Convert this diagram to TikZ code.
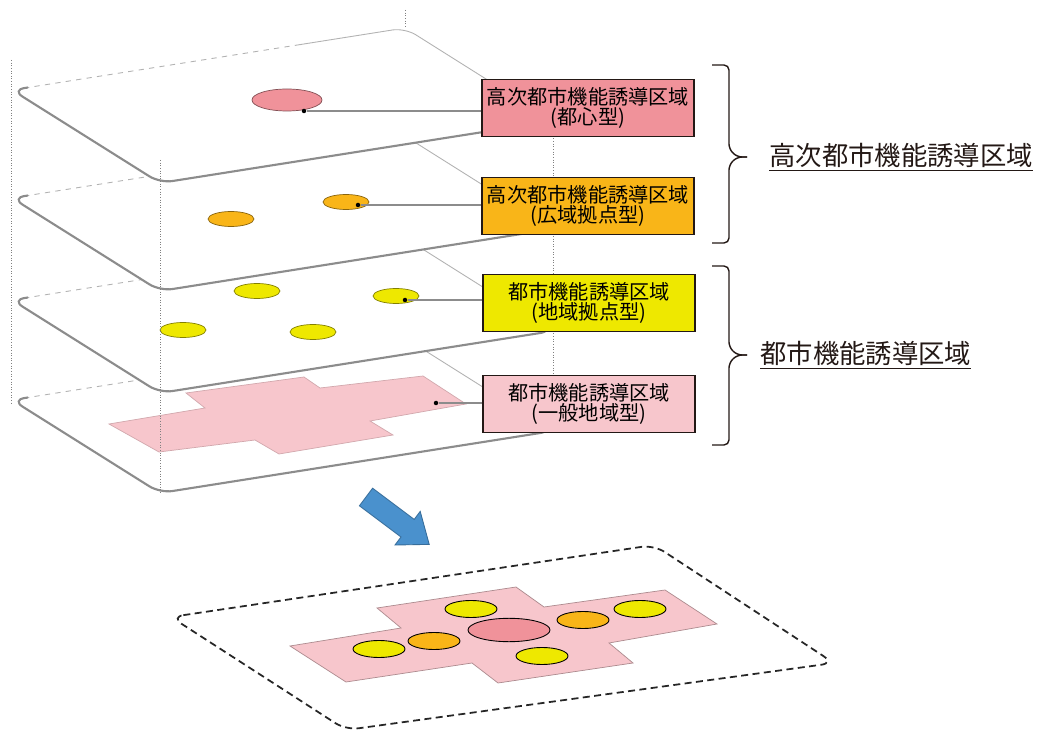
\documentclass[tikz,border=0pt]{standalone}
\usepackage{fontspec}
\setmainfont{Noto Sans CJK JP}
\usetikzlibrary{calc}
\definecolor{toshinpink}{RGB}{240,146,154}
\definecolor{koikiorange}{RGB}{249,181,24}
\definecolor{chiikiyellow}{RGB}{238,232,0}
\definecolor{ippanpink}{RGB}{247,198,204}
\definecolor{yajirushi}{RGB}{74,145,205}
\definecolor{sumi}{RGB}{35,24,21}
\begin{document}
\begin{tikzpicture}[x=0.02cm, y=-0.02cm,
        kubun/.style={rectangle, draw=sumi, line width=0.7pt, minimum width=4.24cm, minimum height=1.14cm, align=center, inner sep=1pt, font=\fontsize{11.5}{11.8}\selectfont},
        soumei/.style={font=\fontsize{15}{18}\selectfont, text=sumi, inner sep=0pt},
        kyoten/.style={draw=#1!55!black, fill=#1, line width=0.4pt},
        gattai/.style={draw=black, fill=#1, line width=0.5pt},
        pindot/.style={circle, fill=black, inner sep=0pt, minimum size=0.09cm},
        hikidashi/.style={draw=black!45, line width=0.6pt},
        hashira/.style={draw=black!50, densely dotted, line width=0.5pt},
        kakko/.style={draw=sumi, line width=0.8pt, rounded corners=0.1cm},
        sheet/.pic={
            \path[fill=white, rounded corners=0.25cm] (12,90) -- (160,183) -- (553,121) -- (405,28) -- cycle;
            \draw[draw=black!30, line width=0.5pt, rounded corners=0.25cm] (540,113) -- (405,28) -- (300,44.6);
            \draw[draw=black!30, line width=0.5pt, dashed] (300,44.6) -- (28,87.5);
            \draw[draw=black!45, line width=1.2pt, rounded corners=0.25cm] (28,87.5) -- (12,90) -- (160,183) -- (553,121) -- (540,113);
        }]
        \useasboundingbox (0,0) rectangle (1039,733);
        \pic at (0,310) {sheet};
        \filldraw[fill=ippanpink, draw=ippanpink!85!black, line width=0.4pt] (109,424) -- (205,408) -- (186,393) -- (304,377) -- (320,388) -- (423,376) -- (466,404) -- (370,421) -- (393,435) -- (279,454) -- (255,440) -- (159,452) -- cycle;
        \node[pindot] (ten4) at (436,403) {};
        \pic at (0,210) {sheet};
        \foreach \x/\y in {257/291, 396/296, 183/330, 313/332}
            \draw[kyoten=chiikiyellow] (\x,\y) ellipse [x radius=23, y radius=7.5];
        \node[pindot] (ten3) at (405,300) {};
        \pic at (0,108) {sheet};
        \foreach \x/\y in {231/219, 346/202}
            \draw[kyoten=koikiorange] (\x,\y) ellipse [x radius=23, y radius=7.5];
        \node[pindot] (ten2) at (358,205) {};
        \pic at (0,0) {sheet};
        \draw[kyoten=toshinpink] (287,100) ellipse [x radius=35, y radius=11];
        \node[pindot] (ten1) at (304,111) {};

        \draw[hashira] (11,60) -- (11,405);
        \draw[hashira] (160,160) -- (160,493);
        \draw[hashira] (405,10) -- (405,28);
        \draw[hashira] (553,120) -- (553,433);

        \node[kubun, fill=toshinpink] (toshin) at (588,108) {高次都市機能誘導区域\\(都心型)};
        \node[kubun, fill=koikiorange] (koiki) at (588,206) {高次都市機能誘導区域\\(広域拠点型)};
        \node[kubun, fill=chiikiyellow] (chiiki) at (589,303) {都市機能誘導区域\\(地域拠点型)};
        \node[kubun, fill=ippanpink] (ippan) at (589,404) {都市機能誘導区域\\(一般地域型)};
        \draw[hikidashi] (ten1) -- (ten1 -| toshin.west);
        \draw[hikidashi] (ten2) -- (ten2 -| koiki.west);
        \draw[hikidashi] (ten3) -- (ten3 -| chiiki.west);
        \draw[hikidashi] (ten4) -- (ten4 -| ippan.west);

        \coordinate (saki1) at (747,157);
        \coordinate (saki2) at (747,355);
        \draw[kakko] (712,65) -- (729,65) -- (729,149) -- (737,157) -- (saki1);
        \draw[kakko] (712,243) -- (729,243) -- (729,165) -- (737,157) -- (saki1);
        \draw[kakko] (712,266) -- (729,266) -- (729,347) -- (737,355) -- (saki2);
        \draw[kakko] (712,445) -- (729,445) -- (729,363) -- (737,355) -- (saki2);
        \node[soumei, anchor=west] (koji) at ($(saki1)+(22,0)$) {\underline{高次都市機能誘導区域}};
        \node[soumei, anchor=west] (toshi) at ($(saki2)+(13,0)$) {\underline{都市機能誘導区域}};

        \filldraw[fill=yajirushi, draw=yajirushi!75!black, line width=0.5pt] (372.6,488.2) -- (414.2,519.4) -- (420.2,511.4) -- (429.2,544.4) -- (395,545) -- (401,537) -- (359.4,505.8) -- cycle;

        \draw[black!85, line width=1pt, dash pattern=on 4pt off 2.5pt, rounded corners=0.25cm, fill=white] (171,617) -- (654,545) -- (834,663) -- (346,730) -- cycle;
        \filldraw[fill=ippanpink, draw=ippanpink!70!black, line width=0.4pt] (290,646) -- (401,628) -- (377,608) -- (516,587) -- (544,607) -- (665,590) -- (717,624) -- (609,643) -- (633,663) -- (498,683) -- (472,663) -- (346,682) -- cycle;
        \foreach \x/\y in {471/609, 640/609, 379/649, 542/656}
            \draw[gattai=chiikiyellow] (\x,\y) ellipse [x radius=26, y radius=8.5];
        \foreach \x/\y in {583/620, 434/641}
            \draw[gattai=koikiorange] (\x,\y) ellipse [x radius=26, y radius=8.5];
        \draw[gattai=toshinpink] (509,630) ellipse [x radius=41, y radius=11.7];
\end{tikzpicture}
\end{document}
